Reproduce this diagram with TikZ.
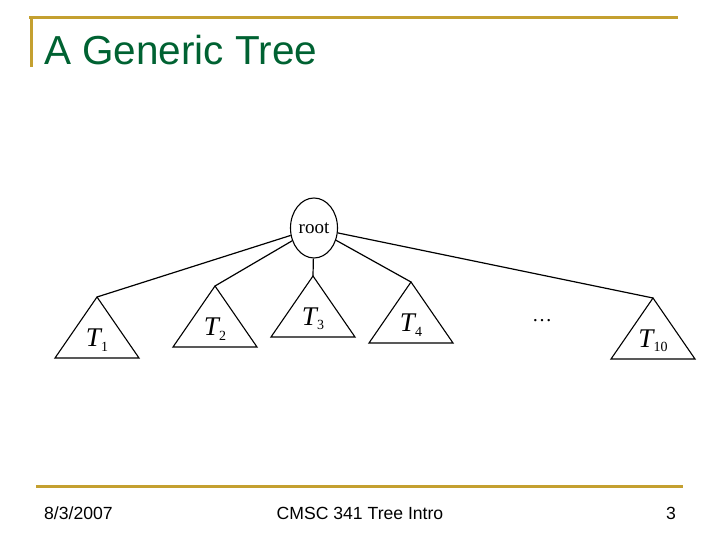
\documentclass[tikz,border=0pt]{standalone}
\usepackage{xcolor}
\usepackage{fontspec}
\setmainfont{Liberation Serif}
\newfontfamily\slidefont{Liberation Sans}
\usepackage{tikz}
\usetikzlibrary{shapes.geometric, calc, positioning}
\definecolor{slidegold}{RGB}{196,160,48}
\definecolor{slidegreen}{RGB}{0,98,50}
\tikzset{
  rootnode/.style={ellipse, draw=black, line width=1.1pt, minimum width=47pt, minimum height=60pt, inner sep=0pt, font=\fontsize{19}{19}\selectfont},
  tri/.style={draw=black, line width=1.1pt, line join=miter},
  branch/.style={draw=black, line width=1.2pt},
  sublabel/.style={inner sep=0pt, font=\fontsize{27}{27}\selectfont},
  rule/.style={draw=slidegold, line width=3pt},
  footer/.style={inner sep=0pt, font=\slidefont\fontsize{17.6}{18}\selectfont},
}
\newcommand{\tsub}[1]{\kern-1.5pt\raisebox{-0.35ex}{\fontsize{14}{14}\selectfont #1}}
% apex name, apex position, label
\newcommand{\subtree}[3]{%
  \coordinate (#1) at (#2);
  \draw[tri] (#1) -- ++(-42,61) -- ++(84,0) -- cycle;
  \node[sublabel] (#1lbl) at ($(#1)+(0,43)$) {#3};
}

\begin{document}
\begin{tikzpicture}[x=1pt, y=-1pt]
\useasboundingbox (0,0) rectangle (720,540);
% slide frame
\coordinate (tl) at (29,18);
\coordinate (tr) at (678,18);
\coordinate (lb) at (31,67);
\draw[rule] (tl) -- (tr);
\draw[rule] (31,18) -- (lb);
\node[anchor=base west, inner sep=0pt, text=slidegreen, font=\slidefont\fontsize{40.5}{42}\selectfont] (title) at (44,65) {A Generic Tree};
% tree
\node[rootnode] (root) at (314,228) {root};
\subtree{t1}{97,297}{\textit{T}\tsub{1}}
\subtree{t2}{215,286}{\textit{T}\tsub{2}}
\subtree{t3}{313,276}{\textit{T}\tsub{3}}
\subtree{t4}{411,282}{\textit{T}\tsub{4}}
\subtree{t10}{653,298}{\textit{T}\tsub{10}}
\node[inner sep=0pt, font=\fontsize{20}{20}\selectfont] (dots) at (542,321) {…};
\foreach \t in {t1,t2,t3,t4,t10}
  \draw[branch] (root) -- (\t);
% footer
\coordinate (fl) at (36,486);
\coordinate (fr) at (683,486);
\draw[rule] (fl) -- (fr);
\node[footer, anchor=base west] (date) at (44,519) {8/3/2007};
\node[footer, anchor=base] (course) at (360,519) {CMSC 341 Tree Intro};
\node[footer, anchor=base east] (page) at (676,519) {3};
\end{tikzpicture}
\end{document}
